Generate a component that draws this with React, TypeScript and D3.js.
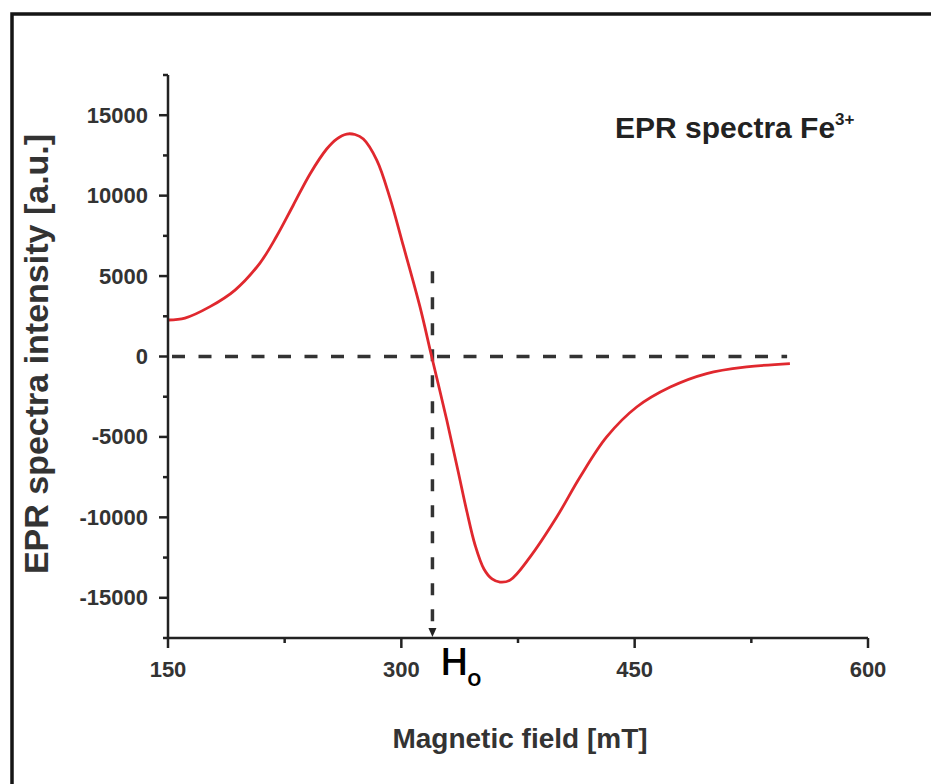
import React from 'react';
import * as d3 from 'd3';

const fieldValues = [150.2, 160.9, 177.0, 193.1, 209.1, 219.9, 230.6, 241.3, 252.0, 258.4, 264.9, 270.2, 275.6, 284.2, 292.7, 301.3, 312.0, 319.5, 329.2, 336.6, 342.2, 347.4, 353.1, 358.3, 363.4, 369.9, 382.7, 399.9, 414.9, 432.0, 451.3, 472.9, 496.3, 522.0, 549.8];
const intensityValues = [2270, 2390, 3100, 4130, 5810, 7490, 9420, 11350, 12900, 13520, 13830, 13800, 13520, 12210, 9850, 6870, 3080, 0, -3950, -7180, -9670, -11720, -13210, -13830, -14020, -13900, -12470, -9980, -7490, -5000, -3140, -1900, -1060, -650, -440];

const xTickValues = [150, 300, 450, 600];
const xMinorTicks = [225, 375, 525];
const yTickValues = [-15000, -10000, -5000, 0, 5000, 10000, 15000];
const yMinorTicks = [-17500, -12500, -7500, -2500, 2500, 7500, 12500, 17500];
const xDomain = [150, 600];
const yDomain = [-17500, 17500];
const h0Field = 320;
const h0Top = 5300;
const baselineFields = [150, 548];

const titleText = 'EPR spectra Fe';
const titleSup = '3+';
const xLabel = 'Magnetic field [mT]';
const yLabel = 'EPR spectra intensity [a.u.]';

export default function App() {
  const x = d3.scaleLinear().domain(xDomain).range([168, 868]);
  const y = d3.scaleLinear().domain(yDomain).range([638, 75]);
  const pts = fieldValues.map((f, i) => [f, intensityValues[i]] as [number, number]);
  const line = d3.line<[number, number]>().x(d => x(d[0])).y(d => y(d[1])).curve(d3.curveCatmullRom.alpha(0.5));
  const axisColor = '#222';
  const labelFont = "'Liberation Sans', Arial, sans-serif";
  const x0 = x(h0Field);
  return (
    <svg width={931} height={784} style={{ position: 'absolute', left: 0, top: 0, background: '#fff' }}>
      <rect x={0} y={0} width={931} height={784} fill="#fff" />
      <rect x={12} y={14} width={940} height={800} fill="none" stroke="#151515" strokeWidth={3.5} />
      <line x1={x(baselineFields[0]) + 4} x2={x(baselineFields[1])} y1={y(0)} y2={y(0)} stroke="#333" strokeWidth={3.5} strokeDasharray="13,13.5" />
      <line x1={x0} x2={x0} y1={y(h0Top)} y2={y(yDomain[0]) - 9} stroke="#333" strokeWidth={3.5} strokeDasharray="12,14" />
      <path d={`M${x0 - 4},${y(yDomain[0]) - 10} L${x0 + 4},${y(yDomain[0]) - 10} L${x0},${y(yDomain[0]) - 1} Z`} fill="#222" />
      <path d={line(pts) || ''} fill="none" stroke="#e0282e" strokeWidth={2.8} />
      <line x1={x(xDomain[0])} x2={x(xDomain[0])} y1={y(yDomain[0])} y2={y(yDomain[1])} stroke={axisColor} strokeWidth={2.5} />
      <line x1={x(xDomain[0])} x2={x(xDomain[1])} y1={y(yDomain[0])} y2={y(yDomain[0])} stroke={axisColor} strokeWidth={2.5} />
      {yTickValues.map(v => (
        <g key={'yt' + v}>
          <line x1={x(xDomain[0]) - 9} x2={x(xDomain[0])} y1={y(v)} y2={y(v)} stroke={axisColor} strokeWidth={2.5} />
          <text x={148} y={y(v)} textAnchor="end" dominantBaseline="central" fontFamily={labelFont} fontWeight="bold" fontSize={22} fill="#333">{v}</text>
        </g>
      ))}
      {yMinorTicks.map(v => (
        <line key={'ym' + v} x1={x(xDomain[0]) - 5} x2={x(xDomain[0])} y1={y(v)} y2={y(v)} stroke={axisColor} strokeWidth={2.5} />
      ))}
      {xTickValues.map(v => (
        <g key={'xt' + v}>
          <line x1={x(v)} x2={x(v)} y1={y(yDomain[0])} y2={y(yDomain[0]) + 10} stroke={axisColor} strokeWidth={2.5} />
          <text x={x(v)} y={677} textAnchor="middle" fontFamily={labelFont} fontWeight="bold" fontSize={22} fill="#333">{v}</text>
        </g>
      ))}
      {xMinorTicks.map(v => (
        <line key={'xm' + v} x1={x(v)} x2={x(v)} y1={y(yDomain[0])} y2={y(yDomain[0]) + 5} stroke={axisColor} strokeWidth={2.5} />
      ))}
      <text x={520} y={748} textAnchor="middle" fontFamily={labelFont} fontWeight="bold" fontSize={28} fill="#333">{xLabel}</text>
      <text transform="translate(48,354) rotate(-90)" textAnchor="middle" fontFamily={labelFont} fontWeight="bold" fontSize={34} fill="#333">{yLabel}</text>
      <text x={615} y={138} fontFamily={labelFont} fontWeight="bold" fontSize={30} fill="#222">
        {titleText}
        <tspan fontSize={17} dy={-13}>{titleSup}</tspan>
      </text>
      <text x={440} y={675} fontFamily="'Open Sans', sans-serif" fontWeight={600} fontSize={38} fill="#000">H</text>
      <text x={467} y={686} fontFamily="'Open Sans', sans-serif" fontWeight={600} fontSize={24} fill="#000">o</text>
    </svg>
  );
}
